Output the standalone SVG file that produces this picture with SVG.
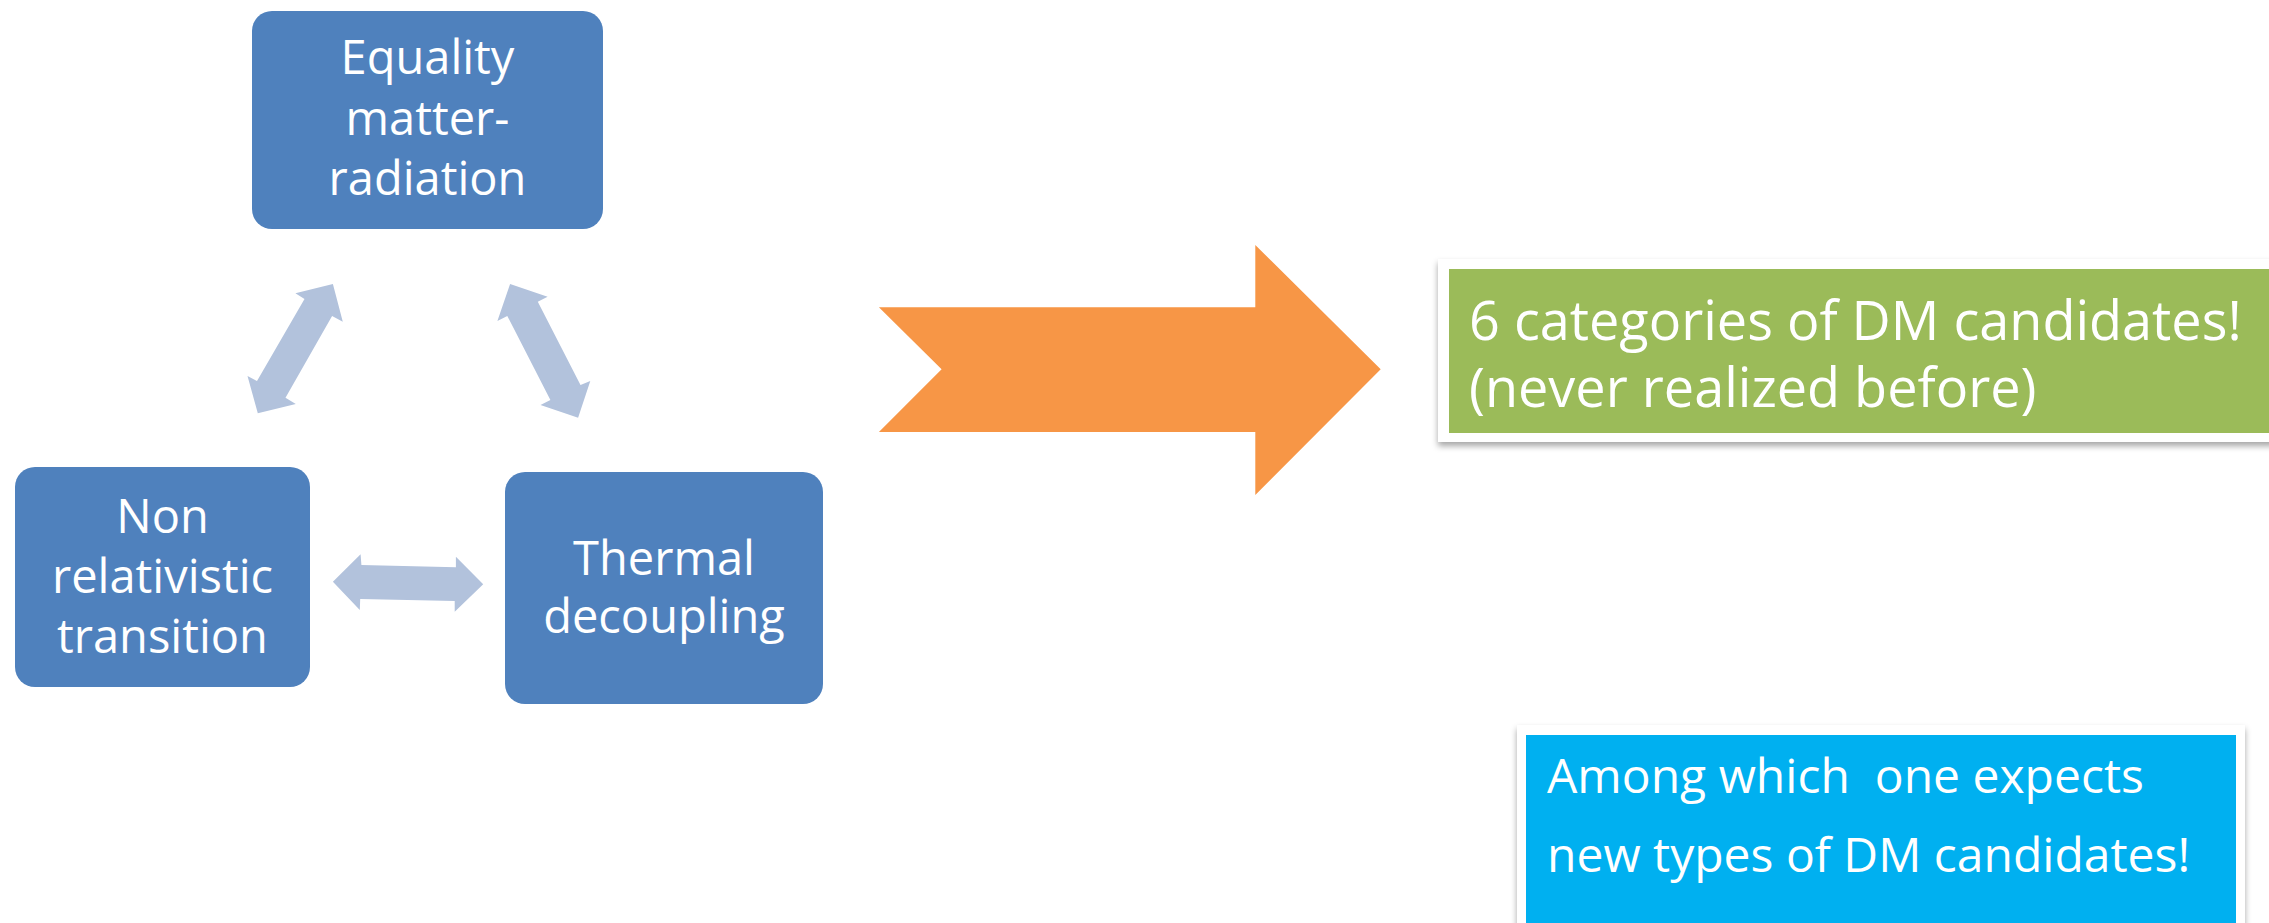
<svg xmlns="http://www.w3.org/2000/svg" width="2269" height="923" viewBox="0 0 2269 923">
<defs>
<style>
.box{fill:#4F81BD;}
.bt{font-family:"Open Sans","DejaVu Sans",sans-serif;font-size:47px;fill:#FFFFFF;text-anchor:middle;}
.conn{fill:#B2C2DC;}
.big{font-family:"Open Sans","DejaVu Sans",sans-serif;fill:#FFFFFF;white-space:pre;}
</style>
<filter id="sh" x="-10%" y="-10%" width="130%" height="140%">
<feDropShadow dx="0" dy="4" stdDeviation="3" flood-color="#000000" flood-opacity="0.35"/>
</filter>
</defs>
<rect width="2269" height="923" fill="#FFFFFF"/>
<g id="connectors">
<polygon class="conn" points="332.9,284 342.8,321.7 332.1,316 285.5,397.7 295.8,404 257.8,413.3 247.5,376 257,381 304.5,299 295.4,293.3"/>
<polygon class="conn" points="510.1,284 547.6,296.7 537.8,301.7 580.5,385 590.3,381 578.1,417.7 540.5,405 550.4,400 507.3,316 497.4,321"/>
<polygon class="conn" points="332.9,581.7 360.6,554.3 361.4,565 455.9,567.3 455.9,556.7 483.2,584.3 454.7,611.7 454.7,601 360.2,599 359.8,610"/>
</g>
<g id="node-equality">
<rect class="box" x="252" y="11" width="351" height="218" rx="20"/>
<text class="bt" x="427.5" y="74">Equality</text>
<text class="bt" x="427.5" y="135">matter-</text>
<text class="bt" x="427.5" y="195">radiation</text>
</g>
<g id="node-nonrel">
<rect class="box" x="15" y="467" width="295" height="220" rx="20"/>
<text class="bt" x="162.5" y="533">Non</text>
<text class="bt" x="162.5" y="593">relativistic</text>
<text class="bt" x="162.5" y="653">transition</text>
</g>
<g id="node-thermal">
<rect class="box" x="505" y="472" width="318" height="232" rx="20"/>
<text class="bt" x="664" y="575">Thermal</text>
<text class="bt" x="664" y="633">decoupling</text>
</g>
<g id="big-arrow">
<polygon fill="#F79646" points="878.9,307.3 1255.3,307.3 1255.3,245 1380.7,369.3 1255.3,495 1255.3,432 878.9,432 941.6,369.3"/>
</g>
<g id="node-categories">
<rect x="1438" y="259" width="850" height="183" fill="#FFFFFF" filter="url(#sh)"/>
<rect x="1449" y="269" width="830" height="164" fill="#9BBB59"/>
<text class="big" font-size="54" x="1469" y="340">6 categories of DM candidates!</text>
<text class="big" font-size="54" x="1469" y="407">(never realized before)</text>
</g>
<g id="node-among">
<rect x="1517" y="725" width="728" height="220" fill="#FFFFFF" filter="url(#sh)"/>
<rect x="1526" y="735" width="710" height="200" fill="#00B0F0"/>
<text class="big" font-size="48" x="1547" y="793">Among which  one expects</text>
<text class="big" font-size="48" x="1547" y="872">new types of DM candidates!</text>
</g>
</svg>
